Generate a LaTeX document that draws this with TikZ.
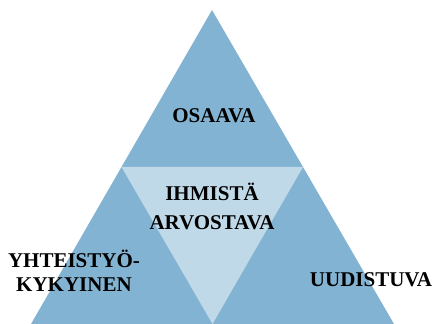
\documentclass[tikz,border=0pt]{standalone}
\usepackage{fontspec}
\setmainfont{Liberation Serif}
\usetikzlibrary{positioning, calc}
\definecolor{outerblue}{RGB}{131,179,210}
\definecolor{innerblue}{RGB}{192,217,232}

\begin{document}
\begin{tikzpicture}[x=1pt, y=1pt, outer/.style={fill=outerblue},
		inner/.style={fill=innerblue},
		label/.style={font=\bfseries\fontsize{21}{24.5}\selectfont, align=center, anchor=base, inner sep=0pt}]
	\useasboundingbox (0, 0) rectangle (434, 324);
	\coordinate (0) at (212, 314);
	\coordinate (1) at (31, 0);
	\coordinate (2) at (394, 0);
	\coordinate (3) at ($(0)!0.5!(1)$);
	\coordinate (4) at ($(0)!0.5!(2)$);
	\coordinate (5) at ($(1)!0.5!(2)$);
	\fill[outer] (0) -- (1) -- (2) -- cycle;
	\fill[inner] (3) -- (4) -- (5) -- cycle;
	\node[label] (6) at (214, 201) {OSAAVA};
	\node[label, font=\bfseries\fontsize{21}{29}\selectfont] (7) at (212, 94) {IHMISTÄ\\ARVOSTAVA};
	\node[label] (8) at (74, 32) {YHTEISTYÖ-\\KYKYINEN};
	\node[label] (9) at (371, 37) {UUDISTUVA};
	\end{tikzpicture}
\end{document}
